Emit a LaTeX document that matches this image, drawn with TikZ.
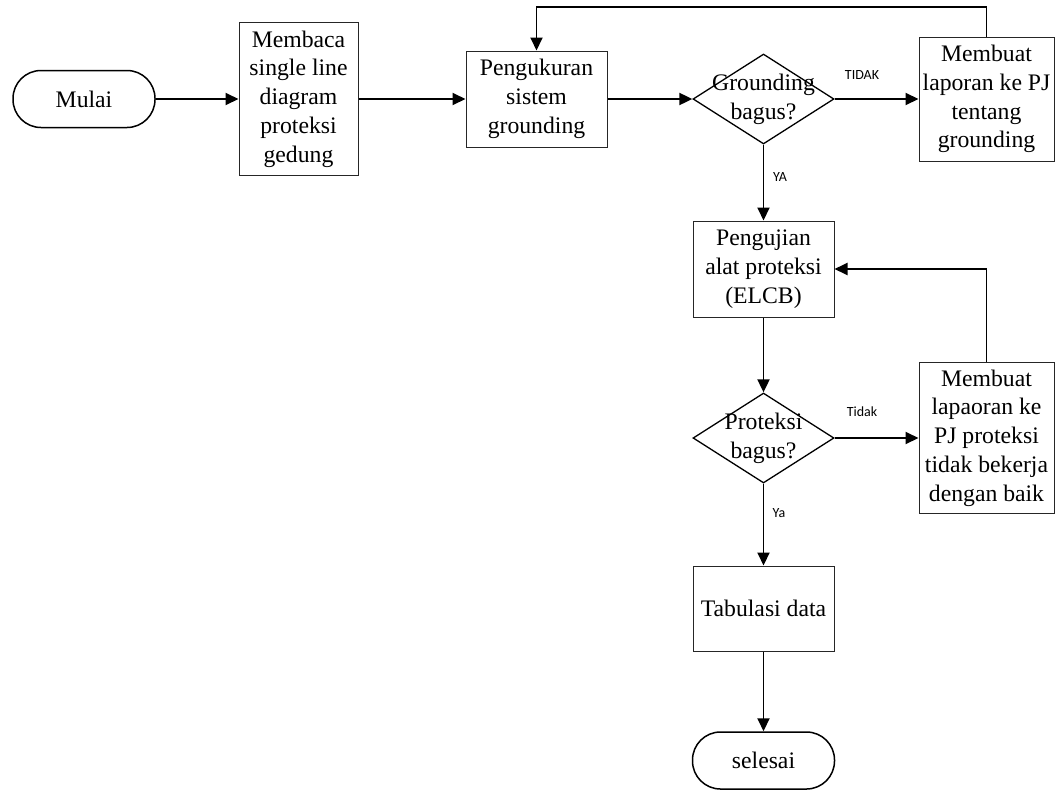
\documentclass[tikz,border=0pt]{standalone}
\usepackage{fontspec}
\setmainfont{Liberation Serif}
\newfontfamily\labfont{Carlito}
\usetikzlibrary{shapes.geometric,arrows.meta}
\begin{document}
\begin{tikzpicture}[x=1pt,y=-1pt,
  txt/.style={align=center, font=\fontsize{23.7}{28.7}\selectfont, inner sep=0pt},
  box/.style={txt, draw=black!85, line width=1pt},
  term/.style={txt, draw=black, line width=1.5pt, rounded corners=28pt, minimum width=142pt, minimum height=57pt},
  dec/.style={draw=black, diamond, line width=1.3pt, minimum width=141pt, minimum height=90pt, inner sep=0pt},
  arr/.style={line width=1.9pt, -{Triangle[length=13pt,width=12pt]}},
  lab/.style={font=\labfont\fontsize{14}{16}\selectfont, inner sep=0pt}]
\useasboundingbox (0,0) rectangle (1056,790);

\node[term] (mulai) at (84,99) {Mulai};
\node[box, minimum width=119pt, minimum height=153pt] (baca) at (298.5,99) {Membaca\\single line\\diagram\\proteksi\\gedung};
\node[box, minimum width=141pt, minimum height=96pt] (ukur) at (536.5,99) {Pengukuran\\sistem\\grounding};
\node[dec] (g) at (763.5,99) {};
\node[txt] (gt) at (g) {Grounding\\bagus?};
\node[box, minimum width=135pt, minimum height=124pt] (lap1) at (986.5,99) {Membuat\\laporan ke PJ\\tentang\\grounding};
\node[box, minimum width=141pt, minimum height=96pt] (uji) at (763.5,269) {Pengujian\\alat proteksi\\(ELCB)};
\node[dec] (p) at (763.5,438) {};
\node[txt] (pt) at (p) {Proteksi\\bagus?};
\node[box, minimum width=135pt, minimum height=151pt] (lap2) at (986.5,438) {Membuat\\lapaoran ke\\PJ proteksi\\tidak bekerja\\dengan baik};
\node[box, minimum width=141pt, minimum height=85pt] (tab) at (763.5,608.5) {Tabulasi data};
\node[term] (selesai) at (763.5,760.5) {selesai};
\coordinate (top) at (760,7);

\draw[arr] (mulai.east) -- (baca.west);
\draw[arr] (baca.east) -- (ukur.west);
\draw[arr] (ukur.east) -- (g.west);
\draw[arr] (g.east) -- (lap1.west);
\draw[arr] (g.south) -- (uji.north);
\draw[arr] (uji.south) -- (p.north);
\draw[arr] (p.east) -- (lap2.west);
\draw[arr] (p.south) -- (tab.north);
\draw[arr] (tab.south) -- (selesai.north);
\draw[arr] (lap1.north) |- (top) -| (ukur.north);
\draw[arr] (lap2.north) |- (uji.east);

\node[lab] (l1) at (862,75) {TIDAK};
\node[lab] (l2) at (780,177) {YA};
\node[lab] (l3) at (862,412) {Tidak};
\node[lab] (l4) at (779,513) {Ya};
\end{tikzpicture}
\end{document}
